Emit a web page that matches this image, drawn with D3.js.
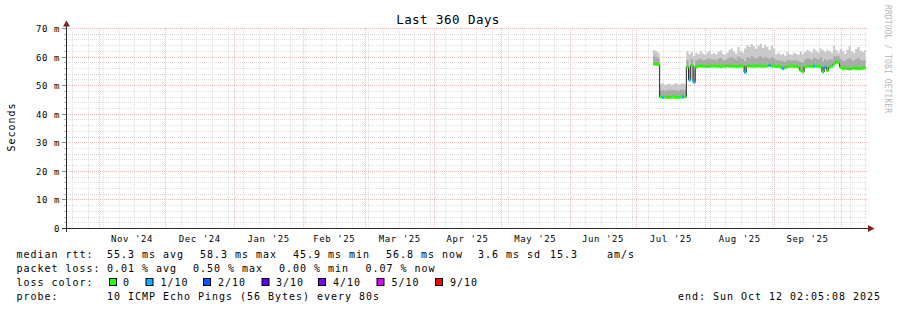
<!DOCTYPE html>
<html><head><meta charset="utf-8">
<script src="https://cdn.jsdelivr.net/npm/d3@7"></script>
<style>
body{margin:0;background:#fff}
svg{display:block}
text{font-family:"DejaVu Sans Mono",monospace;fill:#000}
</style>
</head><body>
<svg id="c" width="897" height="310"></svg>
<script>
// ---------- data ----------
const title = "Last 360 Days";
const rangeStart = "2024-10-17T02:05:08Z";
const rangeEnd   = "2025-10-12T02:05:08Z";
const dataStart  = "2025-07-08T11:00:00Z";   // first sample (one sample per day below)
const yTicks = [0, 10, 20, 30, 40, 50, 60, 70];
const yTickLabels = ["0", "10 m", "20 m", "30 m", "40 m", "50 m", "60 m", "70 m"];
const monthLabels = ["Nov '24","Dec '24","Jan '25","Feb '25","Mar '25","Apr '25","May '25","Jun '25","Jul '25","Aug '25","Sep '25"];

// median rtt (ms), per day
const median = [57.6,57.5,57.4,
 46.0,45.9,46.0,45.9,45.9,46.0,46.0,45.9,45.9,46.0,46.0,46.1,
 56.5,52.0,57.0,51.2,
 56.6,56.8,56.9,56.8,56.8,56.7,56.8,56.8,56.9,56.8,56.8,56.7,56.8,56.8,56.9,56.8,56.8,56.8,56.7,56.8,56.8,56.8,
 54.7,
 56.8,56.9,56.8,56.8,56.8,56.9,56.8,56.8,56.8,56.9,57.1,56.8,56.8,56.7,56.8,56.6,
 56.0,56.3,56.6,56.8,56.8,56.7,56.8,56.5,
 55.4,54.8,
 56.6,56.8,56.8,56.7,56.8,56.8,56.8,56.6,
 54.8,56.5,55.3,56.5,56.8,
 57.6,58.3,58.0,56.5,
 56.0,56.1,56.0,55.8,56.0,56.2,56.0,55.9,56.0,56.1,56.2];
// upper edge of the dense (dark) smoke, ms
const smokeMid = [60.5,60.0,59.5,
 48.3,48.5,48.2,48.4,48.6,48.3,48.5,48.4,48.2,48.6,48.5,48.4,
 59.0,56.0,59.2,55.5,
 58.8,59.2,59.5,59.0,58.9,59.3,59.6,59.1,59.2,58.8,59.4,59.7,59.0,58.9,59.3,59.8,60.0,59.5,59.1,60.2,59.5,59.2,
 58.5,60.0,59.6,60.3,59.8,59.4,60.1,60.4,59.7,60.2,59.8,59.3,60.0,59.5,
 58.8,59.0,58.6,58.5,58.4,59.1,58.9,58.7,59.0,58.9,58.6,58.3,58.0,
 59.2,59.6,59.3,59.0,59.8,59.4,59.1,59.9,58.5,59.2,58.8,59.3,59.0,
 60.2,60.5,60.3,59.4,58.8,58.5,59.2,59.6,58.9,58.6,59.3,59.7,59.0,58.8,59.1];
// upper edge of the light smoke (max ping), ms
const smokeHi = [62.5,62.0,61.5,
 50.6,50.8,50.2,50.5,50.7,50.3,50.6,50.9,50.4,50.6,50.8,50.5,
 62.0,61.0,61.8,60.5,
 61.5,61.0,62.0,61.2,60.8,61.6,62.2,61.0,61.4,60.9,61.8,62.3,61.1,60.7,61.5,62.5,63.0,62.0,61.2,63.5,62.0,61.5,
 63.0,64.2,63.5,64.5,63.8,62.8,64.0,64.6,63.2,64.3,63.5,62.5,64.0,63.0,
 61.0,61.5,60.8,61.2,60.5,61.8,61.0,60.7,61.5,61.2,60.8,61.9,61.0,
 61.8,62.5,62.0,61.5,62.8,62.2,61.6,63.0,62.4,61.8,62.6,62.0,61.5,
 63.8,62.5,61.5,62.8,62.0,61.2,62.5,63.8,62.0,61.5,62.8,63.5,62.2,61.8,62.5];
// packet loss (%), per day
const lossPct = [0,0,0,0,0.3,0,0,0,0,0,
 0,0,0,0.2,0,0,0.5,0,0.4,0,
 0,0,0,0,0,0,0,0,0,0,
 0,0,0,0,0,0,0,0,0,0,
 0,0.3,0,0,0,0,0,0,0,0,
 0,0,0.2,0,0,0,0,0,0.2,0,
 0,0,0,0,0,0,0,0,0,0,
 0,0,0.1,0,0,0,0,0.2,0,0,
 0,0,0,0,0,0,0,0,0,0,
 0,0,0,0,0,0];

const lossLabels = ["0","1/10","2/10","3/10","4/10","5/10","9/10"];
const lossColors = ["#26ff00","#00b8ff","#0059ff","#5e00ff","#7e00ff","#dd00ff","#ff0000"];
const rttStats  = ["55.3 ms avg","58.3 ms max","45.9 ms min","56.8 ms now","3.6 ms sd","15.3","am/s"];
const lossStats = ["0.01 % avg","0.50 % max","0.00 % min","0.07 % now"];
const probeText = "10 ICMP Echo Pings (56 Bytes) every 80s";
const endText = "end: Sun Oct 12 02:05:08 2025";

// ---------- layout ----------
const X0 = 65.5, X1 = 865.5, YB = 228.5, YT = 28.5;
const svg = d3.select("#c");
const t0 = d3.isoParse(rangeStart), t1 = d3.isoParse(rangeEnd);
const x = d3.scaleUtc().domain([t0, t1]).range([X0, X1]);
const y = d3.scaleLinear().domain([0, 70]).range([YB, YT]);
const cx = v => Math.round(v) + 0.5;
const cy = v => Math.floor(v) + 0.5;

const MINOR = "#dedede", MAJOR = "#f5b8b8";

// grid
const g = svg.append("g");
d3.range(2, 70, 2).filter(v => v % 10 !== 0).forEach(v => {
  g.append("line").attr("x1", 66).attr("x2", 867).attr("y1", cy(y(v))).attr("y2", cy(y(v)))
   .attr("stroke", MINOR).attr("stroke-dasharray", "1,1");
});
d3.utcSunday.range(t0, t1).forEach(d => {
  g.append("line").attr("x1", cx(x(d))).attr("x2", cx(x(d))).attr("y1", 28).attr("y2", 228)
   .attr("stroke", MINOR).attr("stroke-dasharray", "1,1");
});
yTicks.filter(v => v > 0).forEach(v => {
  g.append("line").attr("x1", 66).attr("x2", 867).attr("y1", cy(y(v))).attr("y2", cy(y(v)))
   .attr("stroke", MAJOR).attr("stroke-dasharray", "1,1");
});
const monthStarts = d3.utcMonth.range(t0, t1);
monthStarts.forEach(d => {
  g.append("line").attr("x1", cx(x(d))).attr("x2", cx(x(d))).attr("y1", 28).attr("y2", 228)
   .attr("stroke", MAJOR).attr("stroke-dasharray", "1,1");
});

// ---------- series ----------
svg.append("clipPath").attr("id", "clip").append("rect")
  .attr("x", X0).attr("y", 0).attr("width", X1 - X0).attr("height", YB);
const plot = svg.append("g").attr("clip-path", "url(#clip)");
const ds = d3.isoParse(dataStart);
const n = median.length;
const pts = d3.range(n + 1).map(i => ({ t: d3.utcDay.offset(ds, i), i: Math.min(i, n - 1) }));

plot.append("path").datum(pts)
  .attr("d", d3.area().curve(d3.curveStepAfter).x(d => x(d.t))
    .y0(d => y(median[d.i])).y1(d => y(smokeHi[d.i])))
  .attr("fill", "#cacaca");
plot.append("path").datum(pts)
  .attr("d", d3.area().curve(d3.curveStepAfter).x(d => x(d.t))
    .y0(d => y(median[d.i])).y1(d => y(smokeMid[d.i])))
  .attr("fill", "#aaaaaa");
plot.append("path").datum(pts)
  .attr("d", d3.line().curve(d3.curveStepAfter).x(d => x(d.t)).y(d => y(median[d.i])))
  .attr("fill", "none").attr("stroke", "#202020").attr("stroke-width", 1);

const lossIdx = p => { if (p <= 0) return 0; const k = Math.ceil(p / 10); return k > 5 ? 6 : k; };
plot.selectAll("rect.band").data(d3.range(n)).join("rect").attr("class", "band")
  .attr("x", i => x(pts[i].t)).attr("width", i => x(pts[i + 1].t) - x(pts[i].t))
  .attr("y", i => y(median[i]) - 1.5).attr("height", 3)
  .attr("fill", i => lossColors[lossIdx(lossPct[i])]);

// ---------- axes ----------
const AX = "#2a2a2a";
d3.range(2, 71, 2).forEach(v => {
  const major = v % 10 === 0;
  svg.append("line").attr("x1", major ? 62 : 64).attr("x2", 66).attr("y1", cy(y(v))).attr("y2", cy(y(v)))
    .attr("stroke", major ? "#888" : "#bbb");
});
svg.append("line").attr("x1", 66.5).attr("x2", 66.5).attr("y1", 232).attr("y2", 25).attr("stroke", AX);
svg.append("line").attr("x1", 62).attr("x2", 869).attr("y1", 228.5).attr("y2", 228.5).attr("stroke", AX);
svg.append("path").attr("d", "M63,26.5L70,26.5L66.5,20.5Z").attr("fill", "#801f1f");
svg.append("path").attr("d", "M868,225L868,232L874.5,228.5Z").attr("fill", "#801f1f");

// y labels
svg.selectAll("text.yl").data(yTicks).join("text").attr("class", "yl")
  .attr("x", 60).attr("y", v => y(v) + 3.5).attr("text-anchor", "end")
  .style("font-size", "9px").style("letter-spacing", "0.6px")
  .text((v, i) => yTickLabels[i]);

// x labels at middle of each month
const monthMids = monthStarts.map(d => new Date((+d + +d3.utcMonth.offset(d, 1)) / 2))
  .filter(d => d > t0 && d < t1);
svg.selectAll("text.xl").data(monthMids).join("text").attr("class", "xl")
  .attr("x", d => x(d)).attr("y", 242).attr("text-anchor", "middle")
  .style("font-size", "9px").style("letter-spacing", "0.6px")
  .text((d, i) => monthLabels[i]);

// title
svg.append("text").attr("x", 448).attr("y", 24).attr("text-anchor", "middle")
  .style("font-size", "12.5px").style("letter-spacing", "0.45px").text(title);

// vertical label
svg.append("text").attr("transform", "translate(15,127) rotate(-90)").attr("text-anchor", "middle")
  .style("font-size", "10px").style("letter-spacing", "0.95px").text("Seconds");

// watermark
svg.append("text").attr("transform", "translate(885,5) rotate(90)")
  .style("font-size", "8px").style("letter-spacing", "0.1px").style("fill", "#b8b8b8")
  .text("RRDTOOL / TOBI OETIKER");

// ---------- legend ----------
const leg = svg.append("g").style("font-size", "10px").style("letter-spacing", "0.98px");
const put = (tx, xx, yy) => leg.append("text").attr("x", xx).attr("y", yy).text(tx);
put("median rtt:", 16.5, 258);
[107, 200, 293, 386, 478, 550, 607].forEach((xx, i) => put(rttStats[i], xx, 258));
put("packet loss:", 16.5, 272);
[107, 193, 279, 365.5].forEach((xx, i) => put(lossStats[i], xx, 272));
put("loss color:", 16.5, 286);
const swX = [109, 145.5, 203, 261.5, 318, 376.5, 435];
const txX = [123, 160.5, 218, 276, 333, 391.5, 450];
lossLabels.forEach((l, i) => {
  leg.append("rect").attr("x", swX[i] + 0.5).attr("y", 278.5).attr("width", 7).attr("height", 7)
    .attr("fill", lossColors[i]).attr("stroke", "#000");
  put(l, txX[i], 286);
});
put("probe:", 16.5, 300);
put(probeText, 107, 300);
put(endText, 678, 300);
</script>
</body></html>
